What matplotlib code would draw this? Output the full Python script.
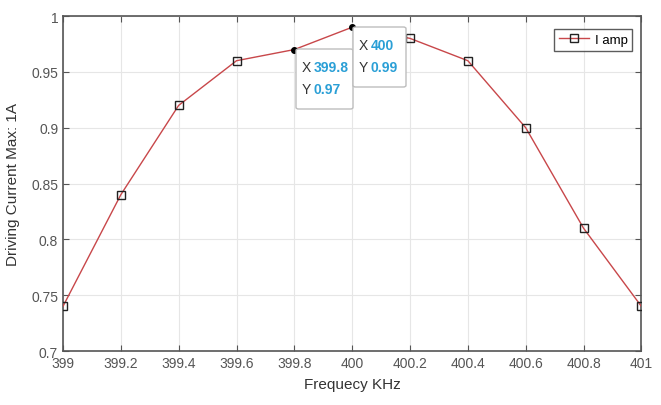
import matplotlib
matplotlib.use("Agg")
import matplotlib.pyplot as plt
from matplotlib.patches import FancyBboxPatch

plt.rcParams['font.family'] = ['Liberation Sans', 'DejaVu Sans']

freq = [399.0, 399.2, 399.4, 399.6, 399.8, 400.0, 400.2, 400.4, 400.6, 400.8, 401.0]
current = [0.74, 0.84, 0.92, 0.96, 0.97, 0.99, 0.98, 0.96, 0.90, 0.81, 0.74]
xticks = [399, 399.2, 399.4, 399.6, 399.8, 400, 400.2, 400.4, 400.6, 400.8, 401]
xticklabels = ['399', '399.2', '399.4', '399.6', '399.8', '400', '400.2', '400.4', '400.6', '400.8', '401']
yticks = [0.7, 0.75, 0.8, 0.85, 0.9, 0.95, 1.0]
yticklabels = ['0.7', '0.75', '0.8', '0.85', '0.9', '0.95', '1']
tip_idx = [4, 5]

fig = plt.figure(figsize=(6.61, 4.06), dpi=100)
ax = fig.add_axes([0.0953, 0.133, 0.875, 0.825])

line_c = '#c8474a'
axis_c = '#555555'
mark_idx = [i for i in range(len(freq)) if i not in tip_idx]
ax.plot(freq, current, color=line_c, lw=1.0, marker='s', markersize=5.5,
        markerfacecolor='none', markeredgecolor='#222222', markeredgewidth=1.0,
        markevery=mark_idx, label='I amp', zorder=3)
for i in tip_idx:
    ax.plot(freq[i], current[i], 'o', color='black', markersize=4, zorder=4)

ax.set_xlim(399, 401)
ax.set_ylim(0.7, 1.0)
ax.set_xticks(xticks)
ax.set_xticklabels(xticklabels)
ax.set_yticks(yticks)
ax.set_yticklabels(yticklabels)
ax.grid(True, color='#e6e6e6', lw=0.8, zorder=0)
ax.tick_params(axis='both', colors=axis_c, labelsize=10, direction='in', length=4,
               top=True, right=True, width=0.8)
for s in ax.spines.values():
    s.set_color(axis_c)
    s.set_linewidth(1.2)
ax.set_xlabel('Frequecy KHz', fontsize=11, color='#333333', labelpad=5)
ax.set_ylabel('Driving Current Max: 1A', fontsize=11, color='#333333', labelpad=8)

leg = ax.legend(loc='upper right', fontsize=9.5, frameon=True, fancybox=False,
                borderpad=0.35, handlelength=2.3, handletextpad=0.4,
                borderaxespad=0, bbox_to_anchor=(0.984, 0.961))
leg.get_frame().set_edgecolor('#333333')
leg.get_frame().set_linewidth(1.0)

# data tips
blue = '#2a9fd6'
dark = '#333333'
tips = [
    (freq[4], current[4], 296, 50, 57, 60),
    (freq[5], current[5], 353, 28, 53, 60),
]
W, H = 661, 406
for (xv, yv, px, py, pw, ph) in tips:
    box = FancyBboxPatch((px / W, 1 - (py + ph) / H), pw / W, ph / H,
                         boxstyle='round,pad=0,rounding_size=0.004',
                         transform=fig.transFigure, facecolor='white',
                         edgecolor='#bdbdbd', lw=1.0, zorder=5)
    fig.patches.append(box)
    tx = (px + 6) / W
    xs = f'{xv:g}'
    ys = f'{yv:g}'
    for k, (lab, val) in enumerate([('X', xs), ('Y', ys)]):
        yy = 1 - (py + 18 + k * 22) / H
        fig.text(tx, yy, lab, fontsize=10, color=dark, va='center', ha='left', zorder=6)
        fig.text(tx + 12 / W, yy, val, fontsize=10, color=blue, fontweight='bold',
                 va='center', ha='left', zorder=6)

fig.savefig('out.png', dpi=100)
